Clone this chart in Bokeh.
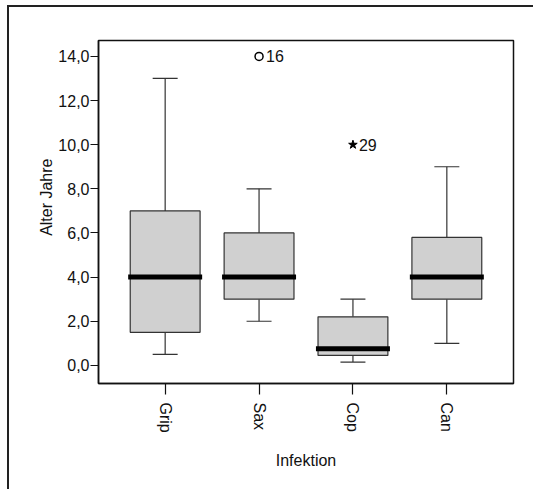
import math
from bokeh.plotting import figure
from bokeh.models import Range1d, FixedTicker, ColumnDataSource, Title
from bokeh.core.properties import value
from bokeh.embed import file_html
from bokeh.resources import INLINE

# ---- data ----
categories = ["Grip", "Sax", "Cop", "Can"]
lower_whisker = [0.5, 2.0, 0.15, 1.0]
q1 = [1.5, 3.0, 0.45, 3.0]
median = [4.0, 4.0, 0.75, 4.0]
q3 = [7.0, 6.0, 2.2, 5.8]
upper_whisker = [13.0, 8.0, 3.0, 9.0]

outlier_cat = ["Sax"]
outlier_val = [14.0]
outlier_lbl = ["16"]

extreme_cat = ["Cop"]
extreme_val = [10.0]
extreme_lbl = ["29"]

y_ticks = [0, 2, 4, 6, 8, 10, 12, 14]
y_tick_labels = ["0,0", "2,0", "4,0", "6,0", "8,0", "10,0", "12,0", "14,0"]

x_title = "Infektion"
y_title = "Alter Jahre"

FONT = "Liberation Sans"
BOX_HALF = 0.372
MED_HALF = 0.394
CAP_HALF = 0.133

xs = list(range(len(categories)))
idx = {c: i for i, c in enumerate(categories)}

W, H = 533, 489
p = figure(width=W, height=H, output_backend="svg", toolbar_location=None,
           x_range=Range1d(-0.71, 3.71), y_range=Range1d(-0.82, 14.72),
           min_border_left=98, min_border_top=40, min_border_right=20, min_border_bottom=106)
# outer chart border (left and top edges visible, as in the reference)
p.styles = {
    "background-color": "white",
    "background-image": "linear-gradient(#222222, #222222), linear-gradient(#222222, #222222)",
    "background-size": "2px calc(100% - 5px), calc(100% - 7px) 2px",
    "background-position": "7px 5px, 7px 5px",
    "background-repeat": "no-repeat",
}

p.xgrid.visible = False
p.ygrid.visible = False
p.outline_line_color = "#111111"
p.outline_line_width = 1.5
p.background_fill_color = "white"
p.border_fill_color = None

src = ColumnDataSource(dict(x=xs, lo=lower_whisker, q1=q1, med=median, q3=q3, hi=upper_whisker,
                            l=[x - BOX_HALF for x in xs], r=[x + BOX_HALF for x in xs],
                            ml=[x - MED_HALF for x in xs], mr=[x + MED_HALF for x in xs],
                            cl=[x - CAP_HALF for x in xs], cr=[x + CAP_HALF for x in xs]))

# whiskers
p.segment(x0="x", y0="q3", x1="x", y1="hi", source=src, line_color="#333333", line_width=1.2)
p.segment(x0="x", y0="q1", x1="x", y1="lo", source=src, line_color="#333333", line_width=1.2)
p.segment(x0="cl", y0="hi", x1="cr", y1="hi", source=src, line_color="#333333", line_width=1.2)
p.segment(x0="cl", y0="lo", x1="cr", y1="lo", source=src, line_color="#333333", line_width=1.2)
# boxes
p.quad(left="l", right="r", bottom="q1", top="q3", source=src,
       fill_color="#d0d0d0", line_color="#333333", line_width=1.2)
# medians
p.segment(x0="ml", y0="med", x1="mr", y1="med", source=src, line_color="black", line_width=5,
          line_cap="butt")

# outliers
ox = [idx[c] for c in outlier_cat]
p.scatter(ox, outlier_val, marker="circle", size=8, fill_color="white",
          line_color="black", line_width=1.5)
p.text(ox, outlier_val, text=outlier_lbl, x_offset=7, text_baseline="middle",
       text_font=value(FONT), text_font_size="16px", text_color="#111111")

ex = [idx[c] for c in extreme_cat]
p.scatter(ex, extreme_val, marker="star", size=9, fill_color="black", line_color="black")
p.text(ex, extreme_val, text=extreme_lbl, x_offset=6, text_baseline="middle",
       text_font=value(FONT), text_font_size="16px", text_color="#111111")

# axes
p.xaxis.ticker = FixedTicker(ticks=xs)
p.xaxis.major_label_overrides = {i: c for i, c in enumerate(categories)}
p.xaxis.major_label_orientation = -math.pi / 2
p.xaxis.minor_tick_line_color = None
p.xaxis.major_tick_out = 11
p.xaxis.major_tick_in = 0
p.xaxis.major_label_standoff = 8
p.xaxis.axis_label = x_title
p.xaxis.axis_label_standoff = 16

p.yaxis.ticker = FixedTicker(ticks=y_ticks)
p.yaxis.major_label_overrides = {t: l for t, l in zip(y_ticks, y_tick_labels)}
p.yaxis.minor_tick_line_color = None
p.yaxis.major_tick_out = 8
p.yaxis.major_tick_in = 0
p.yaxis.major_label_standoff = 1

# y-axis title, shifted above the frame centre as in the reference
p.add_layout(Title(text=y_title, align="right", offset=118, standoff=2,
                   text_font=FONT, text_font_size="16px", text_font_style="normal",
                   text_color="#111111"), "left")

for ax in (p.xaxis, p.yaxis):
    ax.axis_line_color = "#111111"
    ax.axis_line_width = 1.5
    ax.major_tick_line_color = "#111111"
    ax.major_tick_line_width = 1.2
    ax.major_label_text_font = FONT
    ax.major_label_text_font_size = "16px"
    ax.major_label_text_color = "#111111"
    ax.axis_label_text_font = FONT
    ax.axis_label_text_font_size = "16px"
    ax.axis_label_text_font_style = "normal"
    ax.axis_label_text_color = "#111111"

open("out.html", "w").write(file_html(p, INLINE))
